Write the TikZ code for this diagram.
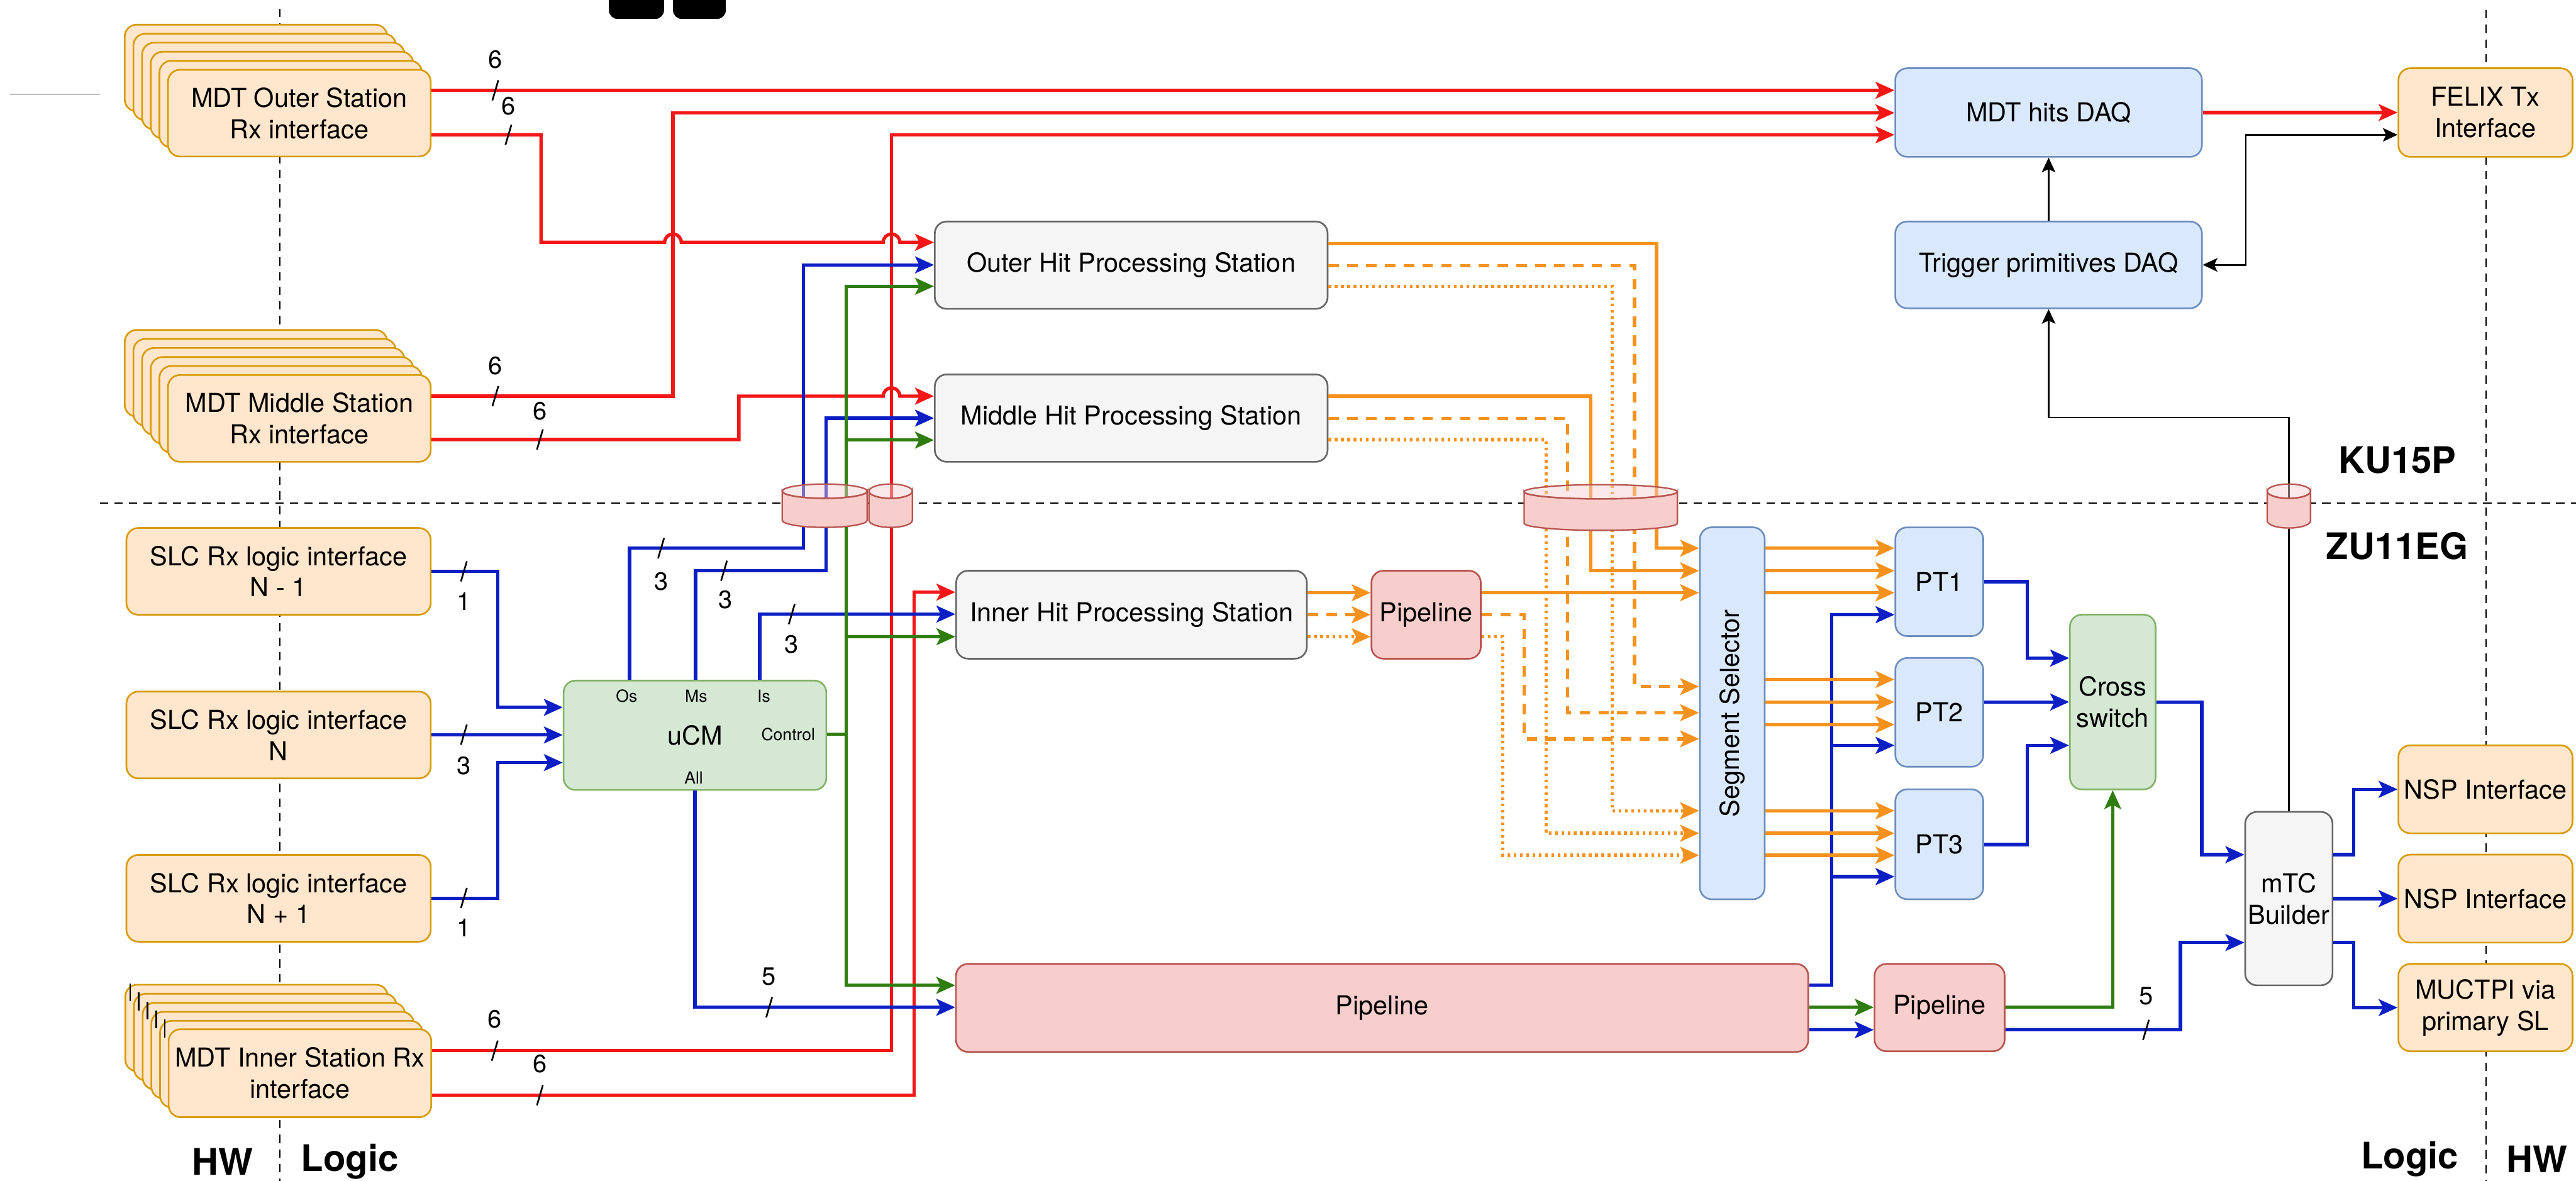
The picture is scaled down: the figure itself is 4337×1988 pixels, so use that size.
\documentclass[tikz,border=0pt]{standalone}
\usepackage{fontspec}
\setmainfont{TeX Gyre Heros}
\usetikzlibrary{arrows.meta,calc}

\definecolor{rxfill}{HTML}{FFE6CC}
\definecolor{rxline}{HTML}{D79B00}
\definecolor{gyfill}{HTML}{F5F5F5}
\definecolor{gyline}{HTML}{666666}
\definecolor{bufill}{HTML}{DAE8FC}
\definecolor{buline}{HTML}{6C8EBF}
\definecolor{gnfill}{HTML}{D5E8D4}
\definecolor{gnline}{HTML}{82B366}
\definecolor{pkfill}{HTML}{F8CECC}
\definecolor{pkline}{HTML}{B85450}
\definecolor{wred}{HTML}{F21616}
\definecolor{wblue}{HTML}{0B1FC4}
\definecolor{wgreen}{HTML}{2F7D0F}
\definecolor{worange}{HTML}{F5921E}

\tikzset{
  blk/.style={draw, rounded corners=0.2cm, line width=0.8pt, inner sep=0pt, align=center,
    font=\fontsize{12.5}{15}\selectfont},
  rxbox/.style={blk, fill=rxfill, draw=rxline},
  gybox/.style={blk, fill=gyfill, draw=gyline},
  bubox/.style={blk, fill=bufill, draw=buline},
  gnbox/.style={blk, fill=gnfill, draw=gnline},
  pkbox/.style={blk, fill=pkfill, draw=pkline},
  tip/.style={-{Stealth[length=9pt,width=8pt,inset=2pt]}},
  tipb/.style={-{Stealth[length=7pt,width=6.5pt,inset=1.5pt]}},
  redw/.style={wred, line width=1.6pt},
  bluew/.style={wblue, line width=1.6pt},
  greenw/.style={wgreen, line width=1.6pt},
  orw/.style={worange, line width=1.6pt},
  ordash/.style={orw, dash pattern=on 5pt off 4pt},
  ordot/.style={orw, dash pattern=on 1.3pt off 1.7pt},
  thinb/.style={black, line width=0.8pt},
  sep/.style={black, line width=0.6pt, dash pattern=on 4pt off 3pt},
  num/.style={font=\fontsize{12}{14}\selectfont},
  tag/.style={font=\fontsize{8}{9}\selectfont},
  zone/.style={font=\bfseries\fontsize{17.5}{20}\selectfont},
}

\begin{document}
\begin{tikzpicture}[x=0.01cm,y=-0.01cm]
 \useasboundingbox (0,0) rectangle (4337,1988);
 \fill[white] (0,0) rectangle (4337,1988);
 % separators
 \draw[sep] (471,15) -- (471,1988);
 \draw[sep] (4185,17) -- (4185,1988);
 \draw[sep] (168,847) -- (4337,847);
 \draw[gray!50, line width=0.8pt] (17,159) -- (168,159);
 \fill[black, rounded corners=0.15cm] (1025,-40) rectangle (1118,32);
 \fill[black, rounded corners=0.15cm] (1133,-40) rectangle (1222,32);

 % stacked Rx interfaces
 \foreach \cx/\cy in {504/190.5, 504/704.5, 505/1807} {
   \foreach \k in {5,4,3,2,1} {
     \draw[rxbox] (\cx-221-14.6*\k, \cy-73-15.2*\k) rectangle ++(442,146);}}
 \foreach \k in {5,4,3,2,1} {\draw[line width=0.8pt] (292-14.6*\k,1732-15.2*\k) -- ++(0,30);}
 \node[rxbox, minimum width=4.42cm, minimum height=1.46cm] (outrx) at (504,190.5) {MDT Outer Station\\Rx interface};
 \node[rxbox, minimum width=4.42cm, minimum height=1.46cm] (midrx) at (504,704.5) {MDT Middle Station\\Rx interface};
 \node[rxbox, minimum width=4.42cm, minimum height=1.48cm] (innrx) at (505,1807) {MDT Inner Station Rx\\interface};

 \node[rxbox, minimum width=5.12cm, minimum height=1.46cm] (slc1) at (469,962) {SLC Rx logic interface\\N - 1};
 \node[rxbox, minimum width=5.12cm, minimum height=1.46cm] (slc2) at (469,1237.5) {SLC Rx logic interface\\N};
 \node[rxbox, minimum width=5.12cm, minimum height=1.46cm] (slc3) at (469,1512.5) {SLC Rx logic interface\\N + 1};

 \node[gnbox, minimum width=4.42cm, minimum height=1.84cm] (ucm) at (1170,1238) {uCM};
 \node[tag] (os) at (1055,1172) {Os};
 \node[tag] (ms) at (1172,1172) {Ms};
 \node[tag] (is) at (1286,1172) {Is};
 \node[tag] (ctl) at (1327,1236) {Control};
 \node[tag] (all) at (1168,1310) {All};

 \node[gybox, minimum width=6.61cm, minimum height=1.47cm] (ohps) at (1904.5,446.5) {Outer Hit Processing Station};
 \node[gybox, minimum width=6.61cm, minimum height=1.47cm] (mhps) at (1904.5,704) {Middle Hit Processing Station};
 \node[gybox, minimum width=5.90cm, minimum height=1.48cm] (ihps) at (1905,1035) {Inner Hit Processing Station};
 \node[pkbox, minimum width=1.84cm, minimum height=1.48cm] (pipea) at (2401,1035) {Pipeline};
 \node[pkbox, minimum width=14.34cm, minimum height=1.48cm] (pipebig) at (2327,1697) {Pipeline};
 \node[pkbox, minimum width=2.19cm, minimum height=1.47cm] (pipeb) at (3265.5,1696.5) {Pipeline};

 \node[bubox, minimum width=1.09cm, minimum height=6.26cm] (segsel) at (2916.5,1201) {};
 \node[rotate=90, font=\fontsize{12.5}{15}\selectfont] (seglbl) at (segsel) {Segment Selector};
 \node[bubox, minimum width=1.48cm, minimum height=1.83cm] (pt1) at (3265,979.5) {PT1};
 \node[bubox, minimum width=1.48cm, minimum height=1.83cm] (pt2) at (3265,1199.5) {PT2};
 \node[bubox, minimum width=1.48cm, minimum height=1.85cm] (pt3) at (3265,1421.5) {PT3};
 \node[gnbox, minimum width=1.44cm, minimum height=2.94cm] (cross) at (3557,1182) {Cross\\switch};
 \node[gybox, minimum width=1.47cm, minimum height=2.92cm] (mtc) at (3853.5,1513) {mTC\\Builder};
 \node[rxbox, minimum width=2.93cm, minimum height=1.48cm] (nsp1) at (4184.5,1329) {NSP Interface};
 \node[rxbox, minimum width=2.93cm, minimum height=1.48cm] (nsp2) at (4184.5,1513) {NSP Interface};
 \node[rxbox, minimum width=2.93cm, minimum height=1.47cm] (muctpi) at (4184.5,1696.5) {MUCTPI via\\primary SL};

 \node[bubox, minimum width=5.16cm, minimum height=1.49cm] (daq) at (3449,189.5) {MDT hits DAQ};
 \node[bubox, minimum width=5.16cm, minimum height=1.46cm] (tpdaq) at (3449,446) {Trigger primitives DAQ};
 \node[rxbox, minimum width=2.93cm, minimum height=1.49cm] (felix) at (4184.5,189.5) {FELIX Tx\\Interface};

 \node[zone] (hwl) at (375,1956) {HW};
 \node[zone] (logl) at (589,1956) {Logic};
 \node[zone] (logr) at (4057,1952) {Logic};
 \node[zone] (hwr) at (4271,1952) {HW};
 \node[zone] (ku) at (4036,775) {KU15P};
 \node[zone] (zu) at (4036,919) {ZU11EG};

 % hits (red)
 \draw[redw,tip] (outrx.east |- 0,152) -- (daq.west |- 0,152);
 \draw[redw,tip] (outrx.east |- 0,227) -- (911,227) -- (911,408) -- (1119,408)
   arc[start angle=180,end angle=360,radius=14] -- (1487,408)
   arc[start angle=180,end angle=360,radius=14] -- (ohps.west |- 0,408);
 \draw[redw,tip] (midrx.east |- 0,667) -- (1133,667) -- (1133,190) -- (daq.west |- 0,190);
 \draw[redw,tip] (midrx.east |- 0,740) -- (1244,740) -- (1244,667) -- (1487,667)
   arc[start angle=180,end angle=360,radius=14] -- (mhps.west |- 0,667);
 \draw[redw,tip] (innrx.east |- 0,1769) -- (1501,1769) -- (1501,227) -- (daq.west |- 0,227);
 \draw[redw,tip] (innrx.east |- 0,1844) -- (1539,1844) -- (1539,997) -- (ihps.west |- 0,997);
 \draw[redw,tip] (daq.east) -- (felix.west);

 % candidates (blue)
 \draw[bluew,tip] (slc1.east) -- (838,962) -- (838,1191) -- (ucm.west |- 0,1191);
 \draw[bluew,tip] (slc2.east) -- (ucm.west |- slc2.east);
 \draw[bluew,tip] (slc3.east) -- (838,1512.5) -- (838,1284) -- (ucm.west |- 0,1284);
 \draw[bluew,tip] (ucm.north -| 1060,0) -- (1060,923) -- (1353,923) -- (1353,446) -- (ohps.west |- 0,446);
 \draw[bluew,tip] (ucm.north -| 1171,0) -- (1171,961) -- (1391,961) -- (1391,704) -- (mhps.west);
 \draw[bluew,tip] (ucm.north -| 1279,0) -- (1279,1034) -- (ihps.west |- 0,1034);
 \draw[bluew,tip] (ucm.south) -- (1170,1696) -- (pipebig.west |- 0,1696);
 \coordinate (ptj2) at (3084,1255);
 \coordinate (ptj3) at (3084,1476);
 \draw[bluew,tip] (pipebig.east |- 0,1659) -- (3084,1659) -- (3084,1035) -- (pt1.west |- 0,1035);
 \draw[bluew,tip] (ptj2) -- (pt2.west |- ptj2);
 \draw[bluew,tip] (ptj3) -- (pt3.west |- ptj3);
 \draw[bluew,tip] (pipebig.east |- 0,1734) -- (pipeb.west |- 0,1734);
 \draw[bluew,tip] (pipeb.east |- 0,1734) -- (3671,1734) -- (3671,1587) -- (mtc.west |- 0,1587);
 \draw[bluew,tip] (pt1.east) -- (3413,979.5) -- (3413,1108) -- (cross.west |- 0,1108);
 \draw[bluew,tip] (pt2.east |- 0,1182) -- (cross.west);
 \draw[bluew,tip] (pt3.east |- 0,1422) -- (3413,1422) -- (3413,1255) -- (cross.west |- 0,1255);
 \draw[bluew,tip] (cross.east) -- (3707,1182) -- (3707,1439) -- (mtc.west |- 0,1439);
 \draw[bluew,tip] (mtc.east |- 0,1439) -- (3963,1439) -- (3963,1329) -- (nsp1.west);
 \draw[bluew,tip] (mtc.east |- 0,1513) -- (nsp2.west);
 \draw[bluew,tip] (mtc.east |- 0,1587) -- (3963,1587) -- (3963,1696.5) -- (muctpi.west);

 % control (green)
 \coordinate (gtapm) at (1425,741);
 \coordinate (gtapi) at (1425,1072);
 \draw[greenw,tip] (ucm.east |- 0,1236) -- (1425,1236) -- (1425,482) -- (ohps.west |- 0,482);
 \draw[greenw,tip] (gtapm) -- (mhps.west |- gtapm);
 \draw[greenw,tip] (gtapi) -- (ihps.west |- gtapi);
 \draw[greenw,tip] (1425,1236) -- (1425,1659) -- (pipebig.west |- 0,1659);
 \draw[greenw,tip] (pipebig.east |- 0,1696) -- (pipeb.west |- 0,1696);
 \draw[greenw,tip] (pipeb.east |- 0,1696) -- (cross.south |- 0,1696) -- (cross.south);

 % segments (orange)
 \draw[orw,tip] (ohps.east |- 0,410) -- (2789,410) -- (2789,923) -- (segsel.west |- 0,923);
 \draw[ordash,tip] (ohps.east |- 0,447) -- (2752,447) -- (2752,1156) -- (segsel.west |- 0,1156);
 \draw[ordot,tip] (ohps.east |- 0,482) -- (2714,482) -- (2714,1365) -- (segsel.west |- 0,1365);
 \draw[orw,tip] (mhps.east |- 0,667) -- (2678,667) -- (2678,961) -- (segsel.west |- 0,961);
 \draw[ordash,tip] (mhps.east |- 0,705) -- (2639,705) -- (2639,1200) -- (segsel.west |- 0,1200);
 \draw[ordot,tip] (mhps.east |- 0,740) -- (2603,740) -- (2603,1403) -- (segsel.west |- 0,1403);
 \foreach \y/\s in {998/orw,1035/ordash,1072/ordot}
   {\draw[\s,tip] (ihps.east |- 0,\y) -- (pipea.west |- 0,\y);}
 \draw[orw,tip] (pipea.east |- 0,998) -- (segsel.west |- 0,998);
 \draw[ordash,tip] (pipea.east |- 0,1035) -- (2566,1035) -- (2566,1244) -- (segsel.west |- 0,1244);
 \draw[ordot,tip] (pipea.east |- 0,1072) -- (2530,1072) -- (2530,1440) -- (segsel.west |- 0,1440);
 \foreach \y in {923,961,998} {\draw[orw,tip] (segsel.east |- 0,\y) -- (pt1.west |- 0,\y);}
 \foreach \y in {1144,1182,1220} {\draw[orw,tip] (segsel.east |- 0,\y) -- (pt2.west |- 0,\y);}
 \foreach \y in {1365,1403,1440} {\draw[orw,tip] (segsel.east |- 0,\y) -- (pt3.west |- 0,\y);}

 % readout (black)
 \draw[thinb,tipb] (tpdaq.north) -- (daq.south);
 \draw[thinb,{Stealth[length=7pt,width=6.5pt,inset=1.5pt]}-{Stealth[length=7pt,width=6.5pt,inset=1.5pt]}]
   (felix.west |- 0,227) -- (3781,227) -- (3781,446) -- (tpdaq.east);
 \draw[thinb,tipb] (mtc.north) -- (3853.5,703) -- (3449,703) -- (tpdaq.south);

 % links between the two devices
 \foreach \xa/\xb/\ya/\yb in {1317/1460/815/888, 1463/1536/815/888, 2566/2824/816/893, 3817/3890/815/889} {
   \pgfmathsetmacro\rx{(\xb-\xa)/2}
   \filldraw[fill=pkfill, draw=pkline, line width=0.7pt] (\xa,\ya+12)
     arc[start angle=180,end angle=0,x radius=\rx,y radius=12] -- (\xb,\yb-12)
     arc[start angle=0,end angle=180,x radius=\rx,y radius=12] -- cycle;
   \filldraw[fill=pkfill, fill opacity=0.45, draw=pkline, line width=0.7pt]
     (\xa+\rx,\ya+12) ellipse[x radius=\rx,y radius=12];}

 % bus widths
 \foreach \x/\y/\lx/\ly/\t [count=\i] in {834/152/834/100/6, 856/227/856/179/6, 834/667/834/616/6,
     909/740/909/692/6, 833/1769/833/1716/6, 909/1844/909/1791/6, 781/962/781/1013/1,
     781/1237/781/1289/3, 781/1512/781/1562/1, 1113/923/1113/979/3, 1219/961/1221/1010/3,
     1333/1034/1333/1085/3, 1295/1696/1295/1644/5, 3613/1734/3613/1677/5} {
   \draw[line width=0.8pt] (\x-5,\y+17) -- (\x+5,\y-17);
   \node[num] (bus\i) at (\lx,\ly) {\t};}
\end{tikzpicture}
\end{document}
